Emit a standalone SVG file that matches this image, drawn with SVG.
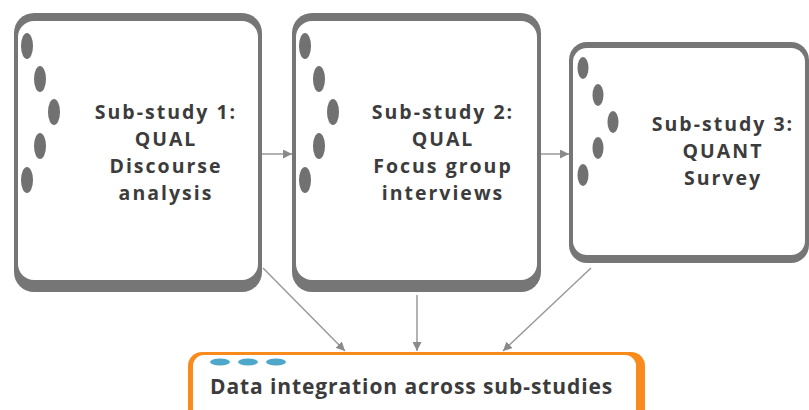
<svg xmlns="http://www.w3.org/2000/svg" width="809" height="410" viewBox="0 0 809 410">
<style>
.frame{fill:#767676}
.inner{fill:#ffffff}
.dot{fill:#717171}
.bdot{fill:#4ea6c9}
.lbl{font-family:"Open Sans","Noto Sans","DejaVu Sans",sans-serif;font-weight:700;font-size:19.5px;letter-spacing:2px;fill:#3c3c3c;text-anchor:middle}
.conn{stroke:#9a9a9a;stroke-width:1.5;fill:none}
</style>
<defs>
<marker id="ah" viewBox="0 0 10 10" refX="10" refY="5" markerWidth="9" markerHeight="9" orient="auto" markerUnits="userSpaceOnUse">
<path d="M0,0 L10,5 L0,10 Z" fill="#8a8a8a"/>
</marker>
</defs>
<rect width="809" height="410" fill="#ffffff"/>
<g id="box1">
<rect class="frame" x="14" y="13" width="248" height="279" rx="20"/>
<rect class="inner" x="18" y="21" width="240" height="259" rx="16"/>
<ellipse class="dot" cx="27" cy="46" rx="6" ry="13"/>
<ellipse class="dot" cx="40" cy="79" rx="6" ry="13"/>
<ellipse class="dot" cx="54" cy="112" rx="6" ry="13"/>
<ellipse class="dot" cx="40" cy="146" rx="6" ry="13"/>
<ellipse class="dot" cx="27" cy="180" rx="6" ry="13"/>
<text class="lbl" x="166" y="119">Sub-study 1:</text>
<text class="lbl" x="166" y="146">QUAL</text>
<text class="lbl" x="166" y="173">Discourse</text>
<text class="lbl" x="166" y="200">analysis</text>
</g>
<g id="box2">
<rect class="frame" x="292" y="13" width="249" height="279" rx="20"/>
<rect class="inner" x="296" y="21" width="241" height="259" rx="16"/>
<ellipse class="dot" cx="305" cy="46" rx="6" ry="13"/>
<ellipse class="dot" cx="319" cy="79" rx="6" ry="13"/>
<ellipse class="dot" cx="333" cy="112" rx="6" ry="13"/>
<ellipse class="dot" cx="319" cy="146" rx="6" ry="13"/>
<ellipse class="dot" cx="305" cy="180" rx="6" ry="13"/>
<text class="lbl" x="443" y="119">Sub-study 2:</text>
<text class="lbl" x="443" y="146">QUAL</text>
<text class="lbl" x="443" y="173">Focus group</text>
<text class="lbl" x="443" y="200">interviews</text>
</g>
<g id="box3">
<rect class="frame" x="569" y="42" width="240" height="221" rx="18"/>
<rect class="inner" x="573" y="48" width="232" height="207" rx="14"/>
<ellipse class="dot" cx="583" cy="68" rx="5.5" ry="11"/>
<ellipse class="dot" cx="598" cy="95" rx="5.5" ry="11"/>
<ellipse class="dot" cx="613" cy="122" rx="5.5" ry="11"/>
<ellipse class="dot" cx="598" cy="148" rx="5.5" ry="11"/>
<ellipse class="dot" cx="583" cy="175" rx="5.5" ry="11"/>
<text class="lbl" x="723" y="131">Sub-study 3:</text>
<text class="lbl" x="723" y="158">QUANT</text>
<text class="lbl" x="723" y="185">Survey</text>
</g>
<g id="integration">
<rect x="188" y="352" width="457" height="80" rx="14" fill="#f98a1c"/>
<rect x="193" y="355" width="443" height="80" rx="11" fill="#ffffff"/>
<ellipse class="bdot" cx="220" cy="362" rx="10" ry="3.5"/>
<ellipse class="bdot" cx="248" cy="362" rx="10" ry="3.5"/>
<ellipse class="bdot" cx="276" cy="362" rx="10" ry="3.5"/>
<text class="lbl" x="210" y="394" style="text-anchor:start;font-size:21px;letter-spacing:0.9px">Data integration across sub-studies</text>
</g>
<g id="connectors">
<line class="conn" x1="262" y1="154" x2="292" y2="154" marker-end="url(#ah)"/>
<line class="conn" x1="541" y1="154" x2="569" y2="154" marker-end="url(#ah)"/>
<line class="conn" x1="263" y1="268" x2="345" y2="351" marker-end="url(#ah)"/>
<line class="conn" x1="417" y1="295" x2="417" y2="351" marker-end="url(#ah)"/>
<line class="conn" x1="591" y1="268" x2="503" y2="351" marker-end="url(#ah)"/>
</g>
</svg>
